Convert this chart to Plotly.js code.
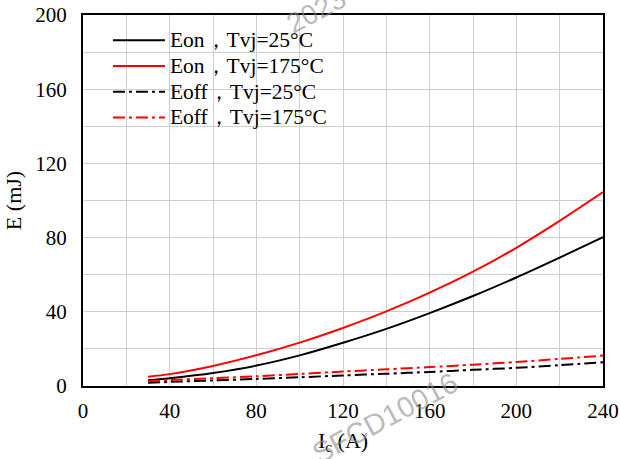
<!DOCTYPE html>
<html>
<head>
<meta charset="utf-8">
<script src="https://cdn.plot.ly/plotly-3.0.1.min.js"></script>
<style>html,body{margin:0;padding:0;background:#fff;}#chart{width:620px;height:459px;}</style>
</head>
<body>
<div id="chart"></div>
<script>
const ic = [30, 40, 60, 80, 100, 120, 140, 160, 180, 200, 220, 240];
const eon25  = [3.1, 4.2, 7.0, 11.0, 16.5, 23.3, 30.8, 39.3, 48.5, 58.5, 69.2, 80.3];
const eon175 = [5.0, 6.4, 10.8, 16.6, 23.4, 31.3, 40.2, 50.3, 61.6, 74.5, 89.0, 104.5];
const eoff25  = [1.7, 2.2, 3.0, 3.8, 4.7, 5.7, 6.6, 7.6, 8.7, 9.8, 11.2, 12.8];
const eoff175 = [2.6, 3.2, 4.2, 5.2, 6.5, 7.8, 9.0, 10.2, 11.5, 13.0, 14.6, 16.4];
const names = ["Eon，Tvj=25°C", "Eon，Tvj=175°C", "Eoff，Tvj=25°C", "Eoff，Tvj=175°C"];
const xTicks = [0, 40, 80, 120, 160, 200, 240];
const yTicks = [0, 40, 80, 120, 160, 200];

const mk = (y, name, color, dash) => ({
  x: ic, y: y, name: '<span style="font-size:21.5px">' + name + '</span>', type: 'scatter', mode: 'lines',
  line: {color: color, width: 2, dash: dash, shape: 'spline', smoothing: 0.8}
});
const traces = [
  mk(eon25, names[0], '#000000', 'solid'),
  mk(eon175, names[1], '#ff0000', 'solid'),
  mk(eoff25, names[2], '#000000', '12px,4px,3px,4px'),
  mk(eoff175, names[3], '#ff0000', '12px,4px,3px,4px')
];
const serif = 'Liberation Serif, Times New Roman, serif';
const layout = {
  width: 620, height: 459,
  margin: {l: 83, r: 17, t: 15, b: 73},
  paper_bgcolor: '#fff', plot_bgcolor: '#fff',
  font: {family: serif, size: 21, color: '#000'},
  showlegend: true,
  legend: {x: 0.048, y: 0.98, xanchor: 'left', yanchor: 'top', bgcolor: 'rgba(255,255,255,0)',
           font: {family: serif, size: 17.5, color: '#000'}, tracegroupgap: 0, itemwidth: 52},
  xaxis: {
    range: [0, 240], tickvals: xTicks, ticktext: xTicks.map(String),
    showgrid: true, gridcolor: '#cfcfcf', gridwidth: 1,
    minor: {dtick: 20, tick0: 0, showgrid: true, gridcolor: '#cfcfcf', gridwidth: 1},
    showline: true, linecolor: '#000', linewidth: 2, mirror: true,
    ticks: '', zeroline: false, ticklabelstandoff: 5,
    title: {text: 'I<sub>c</sub> (A)', font: {family: serif, size: 22}, standoff: 10}
  },
  yaxis: {
    range: [0, 200], tickvals: yTicks, ticktext: yTicks.map(String),
    showgrid: true, gridcolor: '#cfcfcf', gridwidth: 1,
    minor: {dtick: 20, tick0: 0, showgrid: true, gridcolor: '#cfcfcf', gridwidth: 1},
    showline: true, linecolor: '#000', linewidth: 2, mirror: true,
    ticks: '', zeroline: false, ticklabelstandoff: 10,
    title: {text: 'E (mJ)', font: {family: serif, size: 22}, standoff: 8}
  },
  annotations: [
    {text: 'SFCD10016', xref: 'paper', yref: 'paper', x: 0.58, y: -0.085, xanchor: 'center', yanchor: 'middle',
     showarrow: false, textangle: -28,
     font: {family: 'Liberation Sans, Arial, sans-serif', size: 29, color: 'rgba(140,140,140,0.6)'}},
    {text: '2023-06-', xref: 'paper', yref: 'paper', x: 0.49, y: 1.043, xanchor: 'center', yanchor: 'middle',
     showarrow: false, textangle: -28,
     font: {family: 'Liberation Sans, Arial, sans-serif', size: 28, color: 'rgba(140,140,140,0.6)'}}
  ]
};
Plotly.newPlot('chart', traces, layout, {displayModeBar: false, staticPlot: true});
</script>
</body>
</html>
